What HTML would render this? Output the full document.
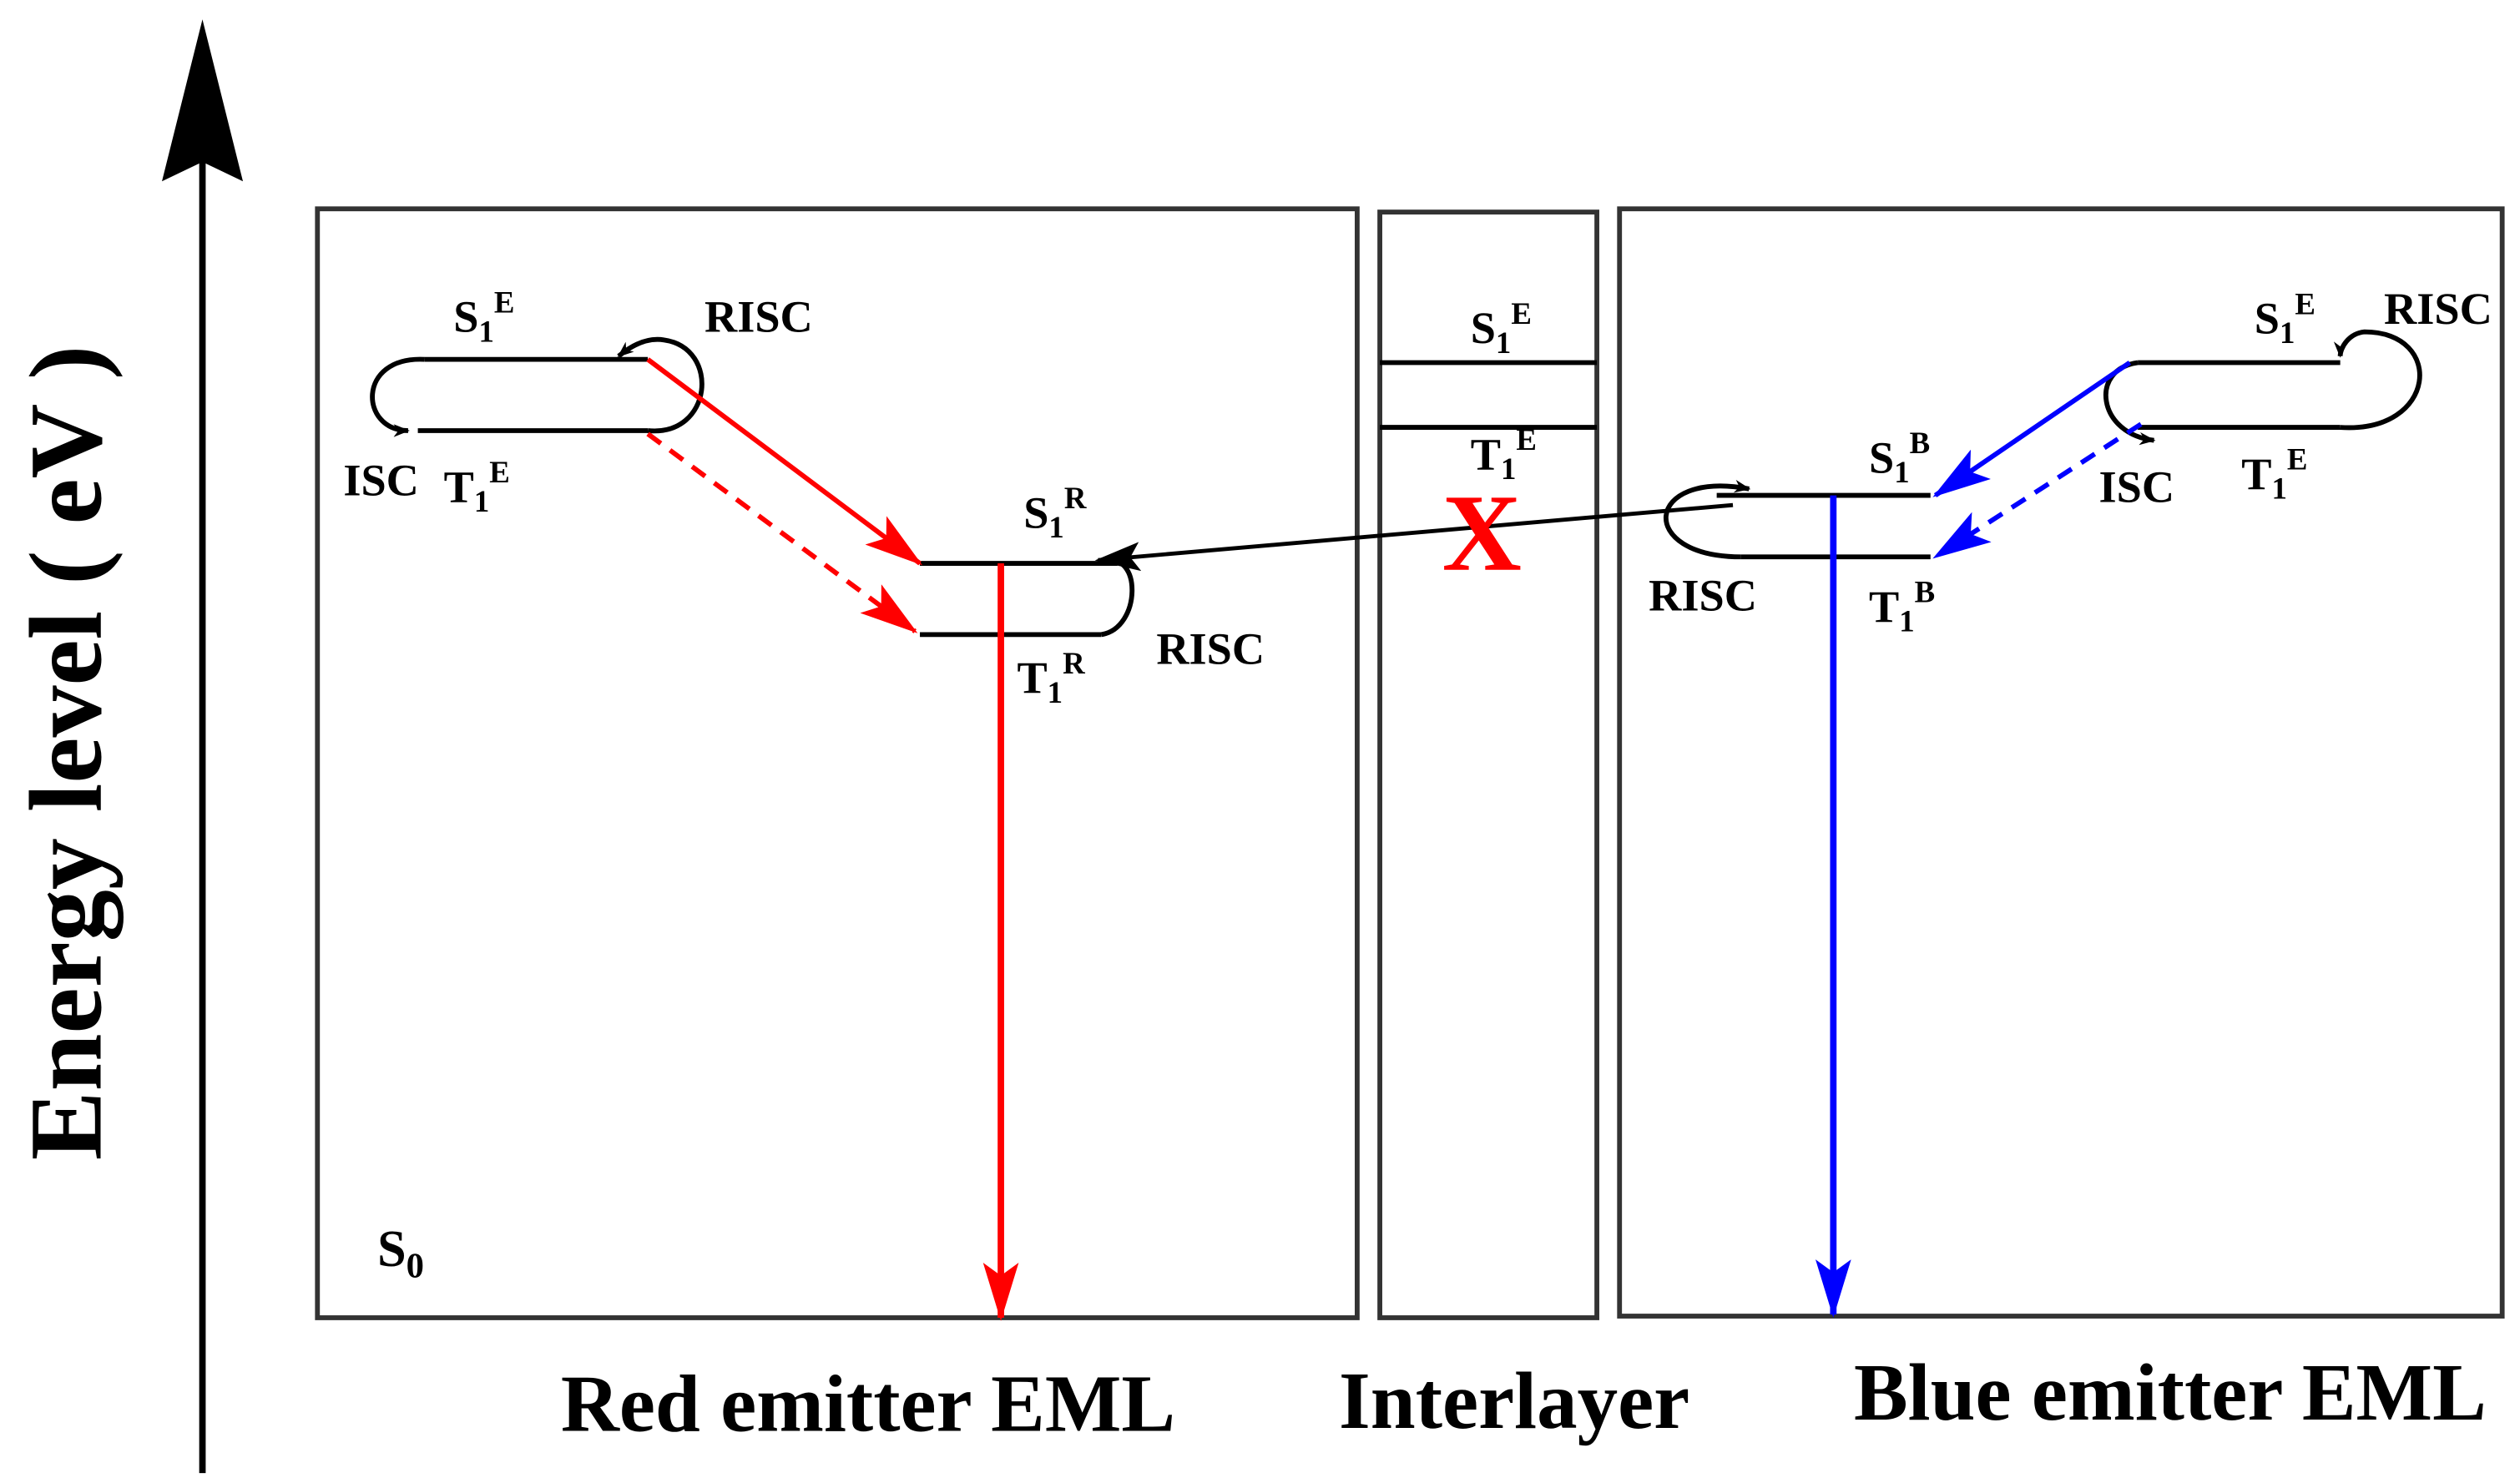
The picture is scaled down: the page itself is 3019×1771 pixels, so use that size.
<!DOCTYPE html>
<html><head><meta charset="utf-8"><style>
html,body{margin:0;padding:0;background:#fff;}
svg{display:block;}
text{font-family:"Liberation Serif",serif;font-weight:bold;fill:#000;}
</style></head><body>
<svg width="3019" height="1771" viewBox="0 0 1556 913" preserveAspectRatio="none" xmlns="http://www.w3.org/2000/svg">
<defs>
<marker id="ak" markerWidth="10" markerHeight="8" refX="9" refY="4" orient="auto" markerUnits="userSpaceOnUse"><path d="M0,0 L10,4 L0,8 L3,4z" fill="#000"/></marker>
<marker id="ar" markerWidth="36" markerHeight="22" refX="34" refY="11" orient="auto" markerUnits="userSpaceOnUse"><path d="M0,0 L36,11 L0,22 L8,11z" fill="#f00"/></marker>
<marker id="ab" markerWidth="36" markerHeight="22" refX="34" refY="11" orient="auto" markerUnits="userSpaceOnUse"><path d="M0,0 L36,11 L0,22 L8,11z" fill="#00f"/></marker>
<marker id="ak2" markerWidth="28" markerHeight="18" refX="26" refY="9" orient="auto" markerUnits="userSpaceOnUse"><path d="M0,0 L28,9 L0,18 L6,9z" fill="#000"/></marker>
</defs>
<line x1="125" y1="100" x2="125" y2="910" stroke="#000" stroke-width="4"/>
<path d="M125,12 L150,112 L125,100 L100,112z" fill="#000"/>
<text transform="translate(62,465) rotate(-90)" text-anchor="middle" font-size="64">Energy level ( eV )</text>
<g fill="none" stroke="#333" stroke-width="3">
<rect x="196" y="129" width="642" height="685"/>
<rect x="852" y="131" width="134" height="683"/>
<rect x="1000" y="129" width="545" height="684"/>
</g>
<text x="536" y="884" text-anchor="middle" font-size="50">Red emitter EML</text>
<text x="935" y="882" text-anchor="middle" font-size="50">Interlayer</text>
<text x="1340" y="877" text-anchor="middle" font-size="50">Blue emitter EML</text>
<g stroke="#000" stroke-width="3" fill="none">
<line x1="262" y1="222" x2="400" y2="222"/>
<line x1="258" y1="266" x2="400" y2="266"/>
<path d="M262,222 C220,220 222,266 252,266" marker-end="url(#ak)"/>
<path d="M400,266 C440,270 445,215 410,210 C398,208 388,215 382,220" marker-end="url(#ak)"/>
<line x1="568" y1="348" x2="690" y2="348"/>
<line x1="568" y1="392" x2="680" y2="392"/>
<path d="M680,392 C705,388 705,340 682,347" marker-end="url(#ak)"/>
<line x1="852" y1="224" x2="986" y2="224"/>
<line x1="852" y1="264" x2="986" y2="264"/>
<line x1="1060" y1="306" x2="1192" y2="306"/>
<line x1="1075" y1="344" x2="1192" y2="344"/>
<path d="M1075,344 C1010,344 1015,290 1080,302" marker-end="url(#ak)"/>
<line x1="1320" y1="224" x2="1445" y2="224"/>
<line x1="1320" y1="264" x2="1445" y2="264"/>
<path d="M1445,264 C1505,268 1510,205 1460,205 C1450,206 1445,215 1445,220" marker-end="url(#ak)"/>
<path d="M1320,224 C1290,228 1295,268 1330,272" marker-end="url(#ak)"/>
</g>
<line x1="400" y1="222" x2="568" y2="348" stroke="#f00" stroke-width="3" marker-end="url(#ar)"/>
<line x1="400" y1="268" x2="565" y2="390" stroke="#f00" stroke-width="3" stroke-dasharray="10,7" marker-end="url(#ar)"/>
<line x1="618" y1="348" x2="618" y2="814" stroke="#f00" stroke-width="4" marker-end="url(#ar)"/>
<line x1="1070" y1="312" x2="678" y2="346" stroke="#000" stroke-width="2.5" marker-end="url(#ak2)"/>
<line x1="1132" y1="306" x2="1132" y2="812" stroke="#00f" stroke-width="4" marker-end="url(#ab)"/>
<line x1="1315" y1="224" x2="1195" y2="306" stroke="#00f" stroke-width="3" marker-end="url(#ab)"/>
<line x1="1322" y1="262" x2="1195" y2="344" stroke="#00f" stroke-width="3" stroke-dasharray="10,7" marker-end="url(#ab)"/>
<text x="915" y="352" text-anchor="middle" font-size="68" style="fill:#f00">X</text>
<g font-size="28">
<text x="280" y="205">S<tspan font-size="19" dy="6">1</tspan><tspan font-size="19" dy="-18">E</tspan></text>
<text x="435" y="205">RISC</text>
<text x="212" y="306">ISC</text>
<text x="274" y="310">T<tspan font-size="19" dy="6">1</tspan><tspan font-size="19" dy="-18">E</tspan></text>
<text x="632" y="326">S<tspan font-size="19" dy="6">1</tspan><tspan font-size="19" dy="-18">R</tspan></text>
<text x="628" y="428">T<tspan font-size="19" dy="6">1</tspan><tspan font-size="19" dy="-18">R</tspan></text>
<text x="714" y="410">RISC</text>
<text x="233" y="782" font-size="32">S<tspan font-size="22" dy="7">0</tspan></text>
<text x="908" y="212">S<tspan font-size="19" dy="6">1</tspan><tspan font-size="19" dy="-18">E</tspan></text>
<text x="908" y="290">T<tspan font-size="19" dy="6">1</tspan><tspan font-size="19" dy="-18">E</tspan></text>
<text x="1154" y="292">S<tspan font-size="19" dy="6">1</tspan><tspan font-size="19" dy="-18">B</tspan></text>
<text x="1154" y="384">T<tspan font-size="19" dy="6">1</tspan><tspan font-size="19" dy="-18">B</tspan></text>
<text x="1018" y="377">RISC</text>
<text x="1392" y="206">S<tspan font-size="19" dy="6">1</tspan><tspan font-size="19" dy="-18">E</tspan></text>
<text x="1472" y="200">RISC</text>
<text x="1296" y="310">ISC</text>
<text x="1384" y="302">T<tspan font-size="19" dy="6">1</tspan><tspan font-size="19" dy="-18">E</tspan></text>
</g>
</svg>
</body></html>
